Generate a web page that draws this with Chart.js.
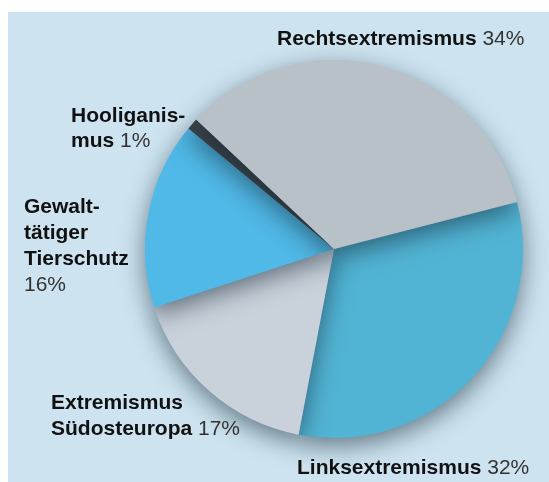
<!DOCTYPE html>
<html>
<head>
<meta charset="utf-8">
<script src="https://cdn.jsdelivr.net/npm/chart.js@4/dist/chart.umd.min.js"></script>
<style>
  html, body { margin: 0; padding: 0; background: #ffffff; }
  #bg { position: absolute; left: 8px; top: 12px; width: 541px; height: 470px; background: #cde4f0; }
  #c { position: absolute; left: 0; top: 0; }
</style>
</head>
<body>
<div id="bg"></div>
<canvas id="c" width="549" height="482"></canvas>
<script>
// Data (clockwise, starting at the Links/Rechts boundary)
const categories = ["Linksextremismus", "Extremismus Südosteuropa", "Gewalttätiger Tierschutz", "Hooliganismus", "Rechtsextremismus"];
const shares = [32, 17, 16, 1, 34];
const labelLines = [
  ["Linksextremismus"],
  ["Extremismus", "Südosteuropa"],
  ["Gewalt-", "tätiger", "Tierschutz"],
  ["Hooliganis-", "mus"],
  ["Rechtsextremismus"]
];
const sliceColors = ["#52b4d4", "#c9d2db", "#51b9e7", "#3b4349", "#b8c0c8"];

// label placement (style only): x, first baseline, line height, percent on own line
const labelPlacement = [
  { x: 297, y: 474, lh: 26, own: false },
  { x: 51,  y: 409, lh: 26, own: false },
  { x: 24,  y: 213, lh: 26, own: true },
  { x: 71,  y: 122, lh: 25, own: false },
  { x: 277, y: 45,  lh: 26, own: false }
];

const shadowPlugin = {
  id: 'sliceShadow',
  beforeDatasetsDraw(chart) {
    const ctx = chart.ctx;
    ctx.save();
    ctx.shadowColor = 'rgba(15,35,50,0.55)';
    ctx.shadowBlur = 24;
    ctx.shadowOffsetX = 0;
    ctx.shadowOffsetY = 8;
  },
  afterDatasetsDraw(chart) {
    chart.ctx.restore();
  }
};

const labelPlugin = {
  id: 'sliceLabels',
  afterDraw(chart) {
    const ctx = chart.ctx;
    const bold = 'bold 21px "Liberation Sans", Arial, sans-serif';
    const reg = '21px "Liberation Sans", Arial, sans-serif';
    ctx.save();
    ctx.textBaseline = 'alphabetic';
    ctx.textAlign = 'left';
    categories.forEach((cat, i) => {
      const p = labelPlacement[i];
      const lines = labelLines[i];
      const pct = shares[i] + '%';
      lines.forEach((ln, j) => {
        const y = p.y + j * p.lh;
        ctx.font = bold;
        ctx.fillStyle = '#111111';
        ctx.fillText(ln, p.x, y);
        if (j === lines.length - 1 && !p.own) {
          const w = ctx.measureText(ln + ' ').width;
          ctx.font = reg;
          ctx.fillStyle = '#333333';
          ctx.fillText(pct, p.x + w, y);
        }
      });
      if (p.own) {
        ctx.font = reg;
        ctx.fillStyle = '#333333';
        ctx.fillText(pct, p.x, p.y + lines.length * p.lh);
      }
    });
    ctx.restore();
  }
};

new Chart(document.getElementById('c'), {
  type: 'pie',
  data: {
    labels: categories,
    datasets: [{
      data: shares,
      backgroundColor: sliceColors,
      borderWidth: 0,
      hoverOffset: 0
    }]
  },
  options: {
    responsive: false,
    animation: false,
    rotation: 75.6,
    layout: { padding: { left: 145, right: 26, top: 60, bottom: 44 } },
    plugins: {
      legend: { display: false },
      tooltip: { enabled: false }
    },
    events: []
  },
  plugins: [shadowPlugin, labelPlugin]
});
</script>
</body>
</html>
